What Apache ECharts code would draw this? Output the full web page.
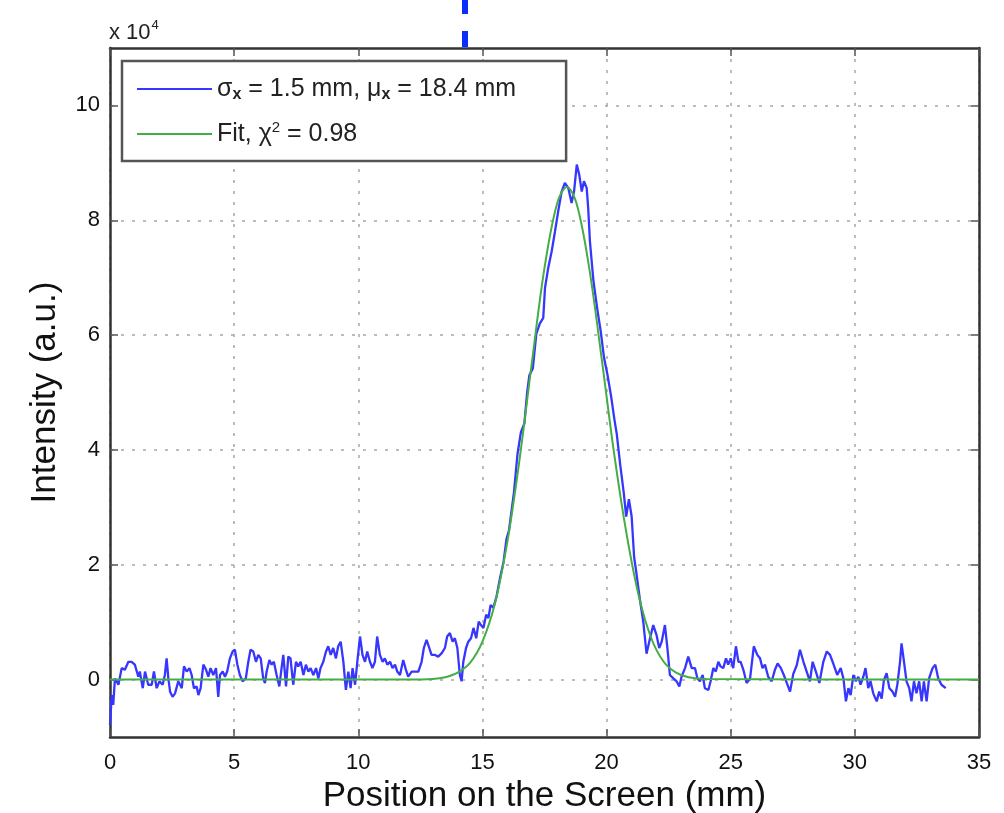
<!DOCTYPE html>
<html>
<head>
<meta charset="utf-8">
<script src="https://cdn.jsdelivr.net/npm/echarts@6/dist/echarts.min.js"></script>
<style>
html,body{margin:0;padding:0;background:#fff;overflow:hidden;}
#chart{width:1004px;height:813px;}
</style>
</head>
<body>
<div id="chart"></div>
<script>
// Measured profile (position in mm, intensity in units of 1e4)
const blueX = [0.00,0.07,0.13,0.20,0.34,0.47,0.60,0.74,0.87,1.00,1.14,1.20,1.32,1.41,1.54,1.68,1.77,1.88,1.99,2.12,2.21,2.28,2.35,2.42,2.52,2.62,2.75,2.89,2.98,3.09,3.20,3.29,3.38,3.49,3.56,3.65,3.76,3.87,3.96,4.05,4.16,4.27,4.36,4.43,4.54,4.63,4.72,4.83,4.94,5.03,5.13,5.23,5.34,5.47,5.57,5.66,5.77,5.88,5.97,6.07,6.17,6.24,6.31,6.42,6.51,6.60,6.71,6.82,6.91,6.98,7.09,7.18,7.27,7.38,7.49,7.58,7.68,7.79,7.89,7.99,8.08,8.19,8.30,8.39,8.48,8.59,8.70,8.79,8.89,8.99,9.10,9.19,9.29,9.40,9.50,9.60,9.69,9.77,9.87,9.96,10.07,10.17,10.27,10.36,10.47,10.57,10.67,10.76,10.87,10.98,11.07,11.17,11.28,11.38,11.48,11.57,11.68,11.81,11.92,12.01,12.15,12.28,12.42,12.55,12.64,12.75,12.86,12.95,13.09,13.22,13.36,13.49,13.58,13.69,13.80,13.89,13.99,14.09,14.16,14.23,14.34,14.43,14.54,14.64,14.75,14.85,14.94,15.04,15.15,15.24,15.33,15.44,15.57,15.70,15.85,15.97,16.07,16.16,16.27,16.41,16.55,16.69,16.80,16.89,17.03,17.17,17.31,17.45,17.52,17.65,17.79,17.92,18.05,18.19,18.32,18.46,18.59,18.69,18.80,18.90,19.00,19.09,19.20,19.26,19.33,19.47,19.63,19.76,19.90,20.04,20.18,20.32,20.41,20.55,20.69,20.79,20.90,21.01,21.11,21.20,21.34,21.48,21.61,21.75,21.88,22.01,22.12,22.22,22.35,22.45,22.55,22.69,22.82,22.93,23.02,23.16,23.29,23.43,23.56,23.66,23.76,23.87,23.96,24.10,24.19,24.30,24.40,24.50,24.59,24.70,24.81,24.90,25.00,25.10,25.21,25.31,25.40,25.51,25.64,25.78,25.93,26.07,26.18,26.28,26.38,26.51,26.65,26.78,26.89,27.02,27.14,27.25,27.39,27.52,27.66,27.79,27.93,28.06,28.19,28.30,28.43,28.57,28.73,28.87,29.00,29.13,29.29,29.43,29.54,29.64,29.74,29.83,29.94,30.04,30.14,30.23,30.34,30.43,30.54,30.63,30.74,30.88,30.98,31.08,31.17,31.28,31.39,31.52,31.62,31.71,31.82,31.88,31.98,32.08,32.19,32.28,32.38,32.48,32.59,32.69,32.78,32.89,32.99,33.13,33.24,33.36,33.49,33.66];
const blueY = [-0.79,-0.27,-0.44,0.02,-0.09,0.20,0.17,0.31,0.31,0.26,0.05,0.14,-0.15,0.14,-0.09,-0.09,0.14,-0.15,-0.03,-0.09,0.08,0.37,0.02,-0.21,-0.30,-0.24,-0.03,-0.15,0.23,0.14,0.20,0.08,-0.15,-0.12,-0.27,-0.15,0.26,0.17,0.05,0.20,0.08,0.20,-0.30,0.08,0.14,0.05,0.14,0.37,0.49,0.52,0.26,0.08,-0.03,0.02,0.31,0.52,0.49,0.31,0.43,0.37,0.02,-0.06,0.14,0.34,0.26,0.31,0.08,-0.12,0.20,0.43,-0.12,0.40,0.37,-0.09,0.31,0.23,0.31,0.08,0.26,0.14,0.20,0.08,0.20,0.02,0.20,0.31,0.49,0.58,0.43,0.55,0.37,0.58,0.66,0.31,-0.18,0.14,-0.15,0.20,-0.09,0.31,0.75,0.43,0.31,0.49,0.31,0.20,0.31,0.75,0.43,0.31,0.37,0.26,0.31,0.20,0.26,0.14,0.08,0.34,0.17,0.05,0.14,0.14,0.14,0.31,0.55,0.69,0.55,0.43,0.43,0.40,0.46,0.55,0.75,0.81,0.66,0.72,0.55,0.08,-0.03,0.31,0.55,0.66,0.72,0.90,0.72,1.01,0.95,0.90,1.13,1.07,1.30,1.25,1.45,1.75,2.05,2.45,2.60,2.90,3.26,3.92,4.31,4.46,5.00,5.30,5.42,6.02,6.20,6.30,6.82,7.17,7.46,7.80,8.15,8.50,8.65,8.56,8.30,8.50,8.97,8.79,8.50,8.68,8.56,8.21,7.63,6.95,6.44,6.08,5.60,5.30,4.94,4.52,4.28,3.74,3.26,2.84,3.14,2.84,2.13,1.86,1.40,1.00,0.45,0.72,0.95,0.78,0.55,0.66,0.95,0.55,0.08,0.02,-0.03,-0.12,0.05,0.20,0.40,0.20,0.20,0.02,-0.03,0.08,-0.15,-0.18,-0.03,0.20,0.14,0.31,0.23,0.20,0.37,0.26,0.37,0.20,0.58,0.31,0.31,0.17,-0.06,0.02,0.58,0.43,0.37,0.20,0.26,0.05,-0.03,0.17,0.28,0.20,0.08,-0.05,-0.21,0.10,0.25,0.52,0.31,0.14,-0.03,0.31,0.14,-0.06,0.31,0.49,0.43,0.28,0.08,0.20,0.02,-0.38,-0.15,-0.27,0.08,-0.03,0.05,-0.09,0.05,0.20,-0.15,-0.03,-0.24,-0.38,-0.21,-0.33,-0.01,0.11,-0.15,-0.21,-0.30,-0.09,0.31,0.63,0.31,-0.03,-0.15,-0.38,-0.03,-0.24,-0.03,-0.38,-0.03,-0.38,0.02,0.20,0.26,0.02,-0.09,-0.15];

// Fit curve
const fitX = [0,12,13,13.5,14,14.5,15,15.5,16,16.5,17,17.5,18,18.4,18.8,19.3,19.8,20.3,20.8,21.3,21.8,22.3,22.8,23.3,24,35];
const fitY = [0,0,0.01,0.04,0.12,0.29,0.66,1.32,2.39,3.85,5.55,7.17,8.28,8.58,8.28,7.17,5.6,3.95,2.55,1.45,0.72,0.31,0.12,0.04,0.01,0];

const xTicks = [0,5,10,15,20,25,30,35];
const yTicks = [0,2,4,6,8,10];

const seriesNames = ['σx = 1.5 mm, μx = 18.4 mm', 'Fit, χ2 = 0.98'];
const legendRich = {
  'σx = 1.5 mm, μx = 18.4 mm': '{n|σ}{sub|x}{n| = 1.5 mm, μ}{sub|x}{n| = 18.4 mm}',
  'Fit, χ2 = 0.98': '{n|Fit, χ}{sup|2}{n| = 0.98}'
};

const FONT = '"Liberation Sans", Arial, Helvetica, sans-serif';
const chart = echarts.init(document.getElementById('chart'), null, {renderer: 'canvas', width: 1004, height: 813});

const axisLineStyle = {color: '#333', width: 2.5};
const tickStyle = {color: '#555', width: 1.5};
const gridStyle = {color: '#a8a8a8', width: 1.5, type: [3, 8]};
const BLUE = '#3636ff';
const GREEN = '#45ad45';

chart.setOption({
  animation: false,
  backgroundColor: '#fff',
  grid: {left: 110, right: 25, top: 48, bottom: 76, containLabel: false, outerBoundsMode: 'none'},
  legend: {
    show: true,
    left: 122, top: 61,
    orient: 'vertical',
    backgroundColor: '#fff',
    borderColor: '#555', borderWidth: 2.5,
    padding: [14, 50, 13, 15],
    itemWidth: 75, itemHeight: 2, itemGap: 17,
    icon: 'rect',
    data: seriesNames,
    formatter: n => legendRich[n],
    textStyle: {
      fontFamily: FONT, fontSize: 25, color: '#222',
      rich: {
        n: {fontFamily: FONT, fontSize: 25, lineHeight: 28, color: '#222'},
        sub: {fontFamily: FONT, fontSize: 16, lineHeight: 16, fontWeight: 'bold', color: '#222', padding: [12, 0, 0, 0]},
        sup: {fontFamily: FONT, fontSize: 15, lineHeight: 15, color: '#222', padding: [0, 0, 13, 0]}
      }
    }
  },
  graphic: [
    {
      type: 'text', left: 109, top: 19,
      style: {
        text: '{a|x 10}{b|4}',
        rich: {
          a: {fontFamily: FONT, fontSize: 22, fill: '#222'},
          b: {fontFamily: FONT, fontSize: 13, fill: '#222', padding: [0, 0, 14, 1]}
        }
      }
    },
    {
      type: 'line', z: 100,
      shape: {x1: 465, y1: -2, x2: 465, y2: 47},
      style: {stroke: '#0a2cff', lineWidth: 6, lineDash: [16, 17]}
    }
  ],
  xAxis: [
    {
      type: 'value', min: 0, max: 35, interval: 5, position: 'bottom',
      name: 'Position on the Screen (mm)', nameLocation: 'middle', nameGap: 36,
      nameTextStyle: {fontFamily: FONT, fontSize: 35, color: '#111'},
      axisLine: {show: true, onZero: false, lineStyle: axisLineStyle},
      axisTick: {show: true, inside: true, length: 8, lineStyle: tickStyle},
      axisLabel: {fontFamily: FONT, fontSize: 22, color: '#111', margin: 15,
        formatter: v => xTicks.includes(v) ? String(v) : ''},
      splitLine: {show: true, lineStyle: gridStyle}
    },
    {
      type: 'value', min: 0, max: 35, interval: 5, position: 'top',
      axisLine: {show: true, onZero: false, lineStyle: axisLineStyle},
      axisTick: {show: true, inside: true, length: 8, lineStyle: tickStyle},
      axisLabel: {show: false},
      splitLine: {show: false}
    }
  ],
  yAxis: [
    {
      type: 'value', min: -1, max: 11, interval: 1, position: 'left',
      name: 'Intensity (a.u.)', nameLocation: 'middle', nameGap: 47,
      nameTextStyle: {fontFamily: FONT, fontSize: 35, color: '#111'},
      axisLine: {show: true, onZero: false, lineStyle: axisLineStyle},
      axisTick: {show: true, inside: true, length: 8, lineStyle: tickStyle, customValues: yTicks},
      axisLabel: {fontFamily: FONT, fontSize: 22, color: '#111', margin: 10, customValues: yTicks},
      splitLine: {show: true, lineStyle: gridStyle}
    },
    {
      type: 'value', min: -1, max: 11, interval: 1, position: 'right',
      axisLine: {show: true, onZero: false, lineStyle: axisLineStyle},
      axisTick: {show: true, inside: true, length: 8, lineStyle: tickStyle, customValues: yTicks},
      axisLabel: {show: false},
      splitLine: {show: false}
    }
  ],
  series: [
    {
      name: seriesNames[0], type: 'line', xAxisIndex: 0, yAxisIndex: 0,
      showSymbol: false, symbol: 'none',
      data: blueX.map((x, i) => [x, blueY[i]]),
      lineStyle: {color: BLUE, width: 2.3},
      itemStyle: {color: BLUE}
    },
    {
      name: seriesNames[1], type: 'line', xAxisIndex: 0, yAxisIndex: 0,
      showSymbol: false, symbol: 'none', smooth: 0.35,
      data: fitX.map((x, i) => [x, fitY[i]]),
      lineStyle: {color: GREEN, width: 2},
      itemStyle: {color: GREEN}
    }
  ]
});
</script>
</body>
</html>
